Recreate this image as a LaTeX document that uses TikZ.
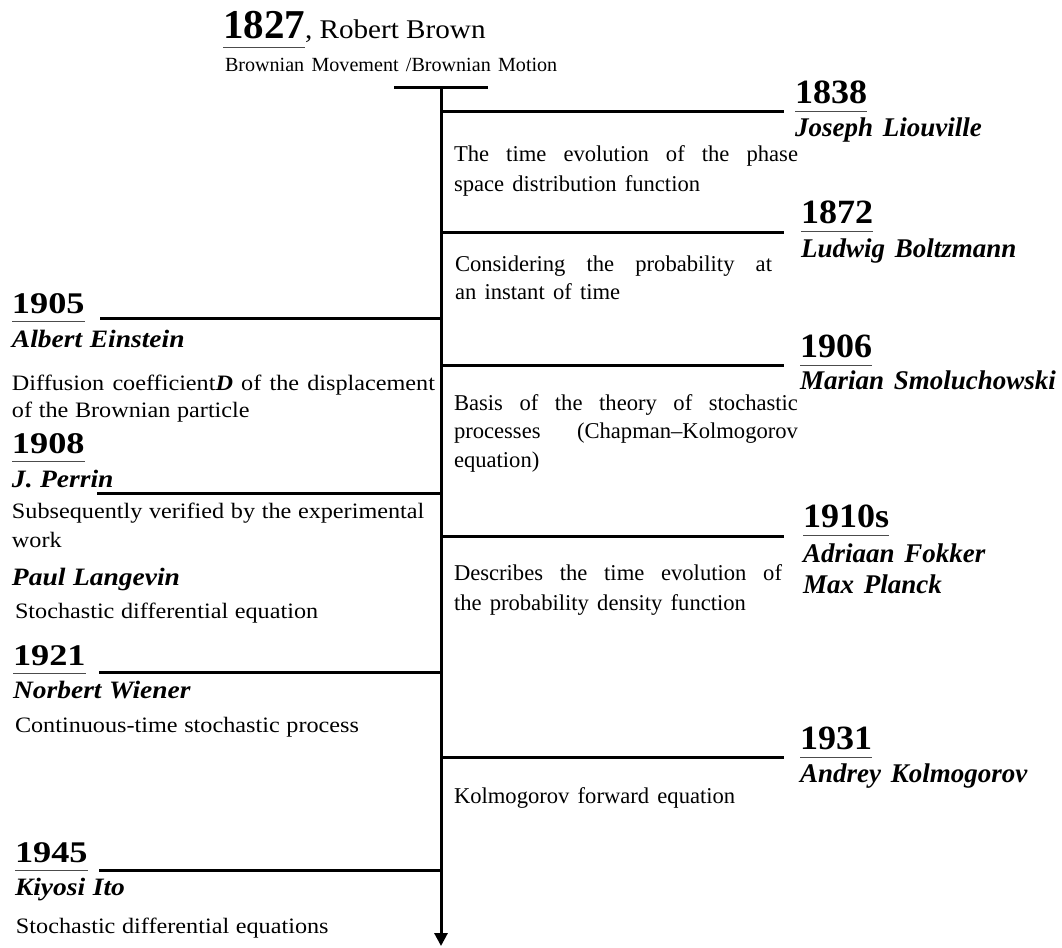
\documentclass[tikz,border=0pt]{standalone}
\usepackage{fontspec}
\setmainfont{Liberation Serif}
\newfontfamily\TOPfont{Liberation Serif}
\newfontfamily\TOPBfont[FakeStretch=1.08]{Liberation Serif}
\newfontfamily\LYfont[FakeStretch=1.21]{Liberation Serif}
\newfontfamily\LNfont[FakeStretch=1.1]{Liberation Serif}
\newfontfamily\LBfont[FakeStretch=1.1,WordSpace=1.1]{Liberation Serif}
\newfontfamily\RYfont[FakeStretch=1.06]{Liberation Serif}
\newfontfamily\RNfont{Liberation Serif}
\newfontfamily\RBfont[WordSpace=1.45]{Liberation Serif}
\usetikzlibrary{arrows.meta}
\begin{document}
\begin{tikzpicture}[x=1pt,y=-1pt,
  txt/.style={anchor=base west,inner sep=0pt,outer sep=0pt,align=left},
  uline/.style={draw=black!70,line width=1.4pt},
  yearul/.style={append after command={([yshift=-8.5pt]\tikzlastnode.base west) edge[uline] ([yshift=-8.5pt]\tikzlastnode.base east)}},
  bar/.style={line width=3pt},
  topyear/.style={txt,yearul,font={\TOPfont\fontsize{41}{44}\selectfont\bfseries}},
  toptxt/.style={txt,font={\TOPBfont\fontsize{27}{30}\selectfont}},
  topsub/.style={txt,font={\TOPfont\fontsize{20.1}{24}\selectfont}},
  lyear/.style={txt,yearul,font={\LYfont\fontsize{30}{32}\selectfont\bfseries}},
  lname/.style={txt,font={\LNfont\fontsize{25}{28}\selectfont\bfseries\itshape}},
  lbody/.style={txt,font={\LBfont\fontsize{22}{#1}\selectfont}},
  lbody/.default=27,
  ryear/.style={txt,yearul,font={\RYfont\fontsize{34}{36}\selectfont\bfseries}},
  rname/.style={txt,font={\RNfont\fontsize{27}{31}\selectfont\bfseries\itshape}},
  rbody/.style={txt,font={\RBfont\fontsize{22.6}{#1}\selectfont}},
  rbody/.default=29.5
]
\useasboundingbox (0,0) rectangle (1062,947);

% axis
\coordinate (barL) at (394,88);
\coordinate (barR) at (488,88);
\coordinate (axTop) at (441,88);
\coordinate (axEnd) at (441,946);
\draw[bar] (barL) -- (barR);
\draw[bar,-{Triangle[width=13pt,length=13pt]}] (axTop) -- (axEnd);

% right branches
\foreach \n/\y in {r1838/112,r1872/232,r1906/365,r1910/536,r1931/757}{
  \coordinate (\n a) at (441,\y);
  \coordinate (\n b) at (784,\y);
  \draw[bar] (\n a) -- (\n b);
}
% left branches
\foreach \n/\y/\x in {l1905/318/100,l1908/493/97,l1921/672/99,l1945/870/99}{
  \coordinate (\n a) at (441,\y);
  \coordinate (\n b) at (\x,\y);
  \draw[bar] (\n a) -- (\n b);
}

% top
\node[topyear] (y1827) at (223,39) {1827};
\node[toptxt] (rb) at (y1827.base east) {, Robert Brown};
\node[topsub] (bm) at (225,72) {Brownian Movement /Brownian Motion};

% right side (multi-line nodes are placed by the baseline of their last line)
\node[ryear] (y1838) at (795,103) {1838};
\node[rname] (n1838) at (795,136) {Joseph Liouville};
\node[rbody=29.5] (t1838) at (454,191) {\makebox[344pt][s]{The time evolution of the phase}\\space distribution function};

\node[ryear] (y1872) at (801,223) {1872};
\node[rname] (n1872) at (801,257) {Ludwig Boltzmann};
\node[rbody=27.5] (t1872) at (455,299) {\makebox[317pt][s]{Considering the probability at}\\an instant of time};

\node[ryear] (y1906) at (800,357) {1906};
\node[rname] (n1906) at (800,389) {Marian Smoluchowski};
\node[rbody=28.5] (t1906) at (454,467) {\makebox[344pt][s]{Basis of the theory of stochastic}\\\makebox[344pt][s]{processes (Chapman–Kolmogorov}\\equation)};

\node[ryear] (y1910) at (803,527) {1910s};
\node[rname] (n1910) at (803,593) {Adriaan Fokker\\Max Planck};
\node[rbody=30] (t1910) at (454,610) {\makebox[328pt][s]{Describes the time evolution of}\\the probability density function};

\node[ryear] (y1931) at (800,749) {1931};
\node[rname] (n1931) at (800,782) {Andrey Kolmogorov};
\node[rbody] (t1931) at (454,803) {Kolmogorov forward equation};

% left side
\node[lyear] (y1905) at (12,313) {1905};
\node[lname] (n1905) at (12,347) {Albert Einstein};
\node[lbody=27] (t1905) at (12,417) {\makebox[423pt][s]{Diffusion coefficient\textbf{\textit{D}} of the displacement}\\of the Brownian particle};

\node[lyear] (y1908) at (12,453) {1908};
\node[lname] (n1908) at (12,487) {J. Perrin};
\node[lbody=29] (t1908) at (12,547) {Subsequently verified by the experimental\\work};
\node[lname] (n1908b) at (12,585) {Paul Langevin};
\node[lbody] (t1908b) at (15,618) {Stochastic differential equation};

\node[lyear] (y1921) at (13,665) {1921};
\node[lname] (n1921) at (13,698) {Norbert Wiener};
\node[lbody] (t1921) at (15,732) {Continuous-time stochastic process};

\node[lyear] (y1945) at (15,862) {1945};
\node[lname] (n1945) at (15,895) {Kiyosi Ito};
\node[lbody] (t1945) at (16,933) {Stochastic differential equations};
\end{tikzpicture}
\end{document}
